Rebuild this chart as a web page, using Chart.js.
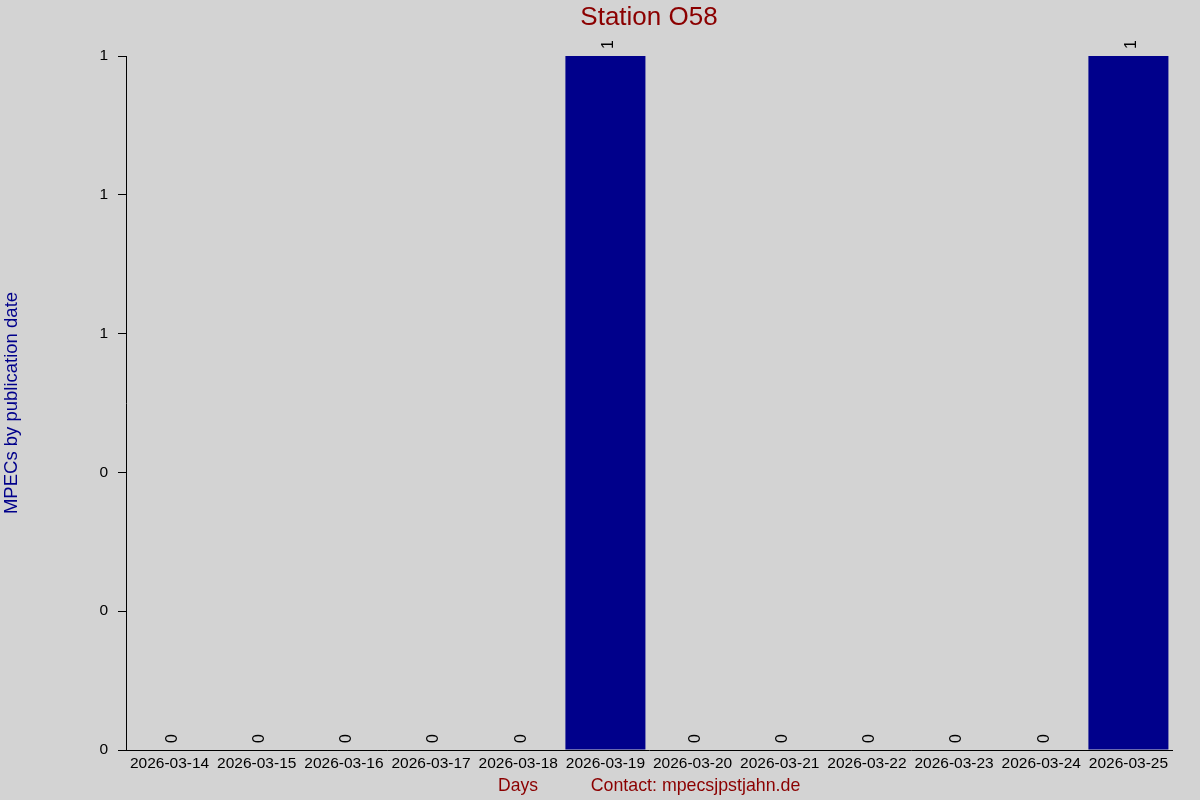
<!DOCTYPE html>
<html>
<head>
<meta charset="utf-8">
<script src="https://cdn.jsdelivr.net/npm/chart.js@4/dist/chart.umd.min.js"></script>
<style>
  html, body { margin: 0; padding: 0; background: #d3d3d3; }
  #wrap { width: 1200px; height: 800px; }
</style>
</head>
<body>
<div id="wrap"><canvas id="c" width="1200" height="800"></canvas></div>
<script>
const categories = ['2026-03-14','2026-03-15','2026-03-16','2026-03-17','2026-03-18','2026-03-19',
                    '2026-03-20','2026-03-21','2026-03-22','2026-03-23','2026-03-24','2026-03-25'];
const mpecCounts = [0,0,0,0,0,1,0,0,0,0,0,1];
const chartTitle = 'Station O58';
const yAxisTitle = 'MPECs by publication date';
const xAxisTitle = 'Days';
const contactText = 'Contact: mpecsjpstjahn.de';

const FONT = '"Liberation Sans", Arial, sans-serif';
const DARKRED = '#8b0000';
const DARKBLUE = '#00008b';

const bgPlugin = {
  id: 'bg',
  beforeDraw(chart) {
    const ctx = chart.ctx;
    ctx.save();
    ctx.fillStyle = '#d3d3d3';
    ctx.fillRect(0, 0, chart.width, chart.height);
    ctx.restore();
  }
};

const textPlugin = {
  id: 'texts',
  afterDatasetsDraw(chart) {
    const ctx = chart.ctx;
    const meta = chart.getDatasetMeta(0);
    ctx.save();
    ctx.fillStyle = '#000';
    ctx.font = '16px ' + FONT;
    ctx.textAlign = 'left';
    ctx.textBaseline = 'middle';
    meta.data.forEach((el, i) => {
      const v = chart.data.datasets[0].data[i];
      ctx.save();
      ctx.translate(el.x + 3, el.y - 7);
      ctx.rotate(-Math.PI / 2);
      ctx.fillText(String(v), 0, 0);
      ctx.restore();
    });
    ctx.restore();
  },
  afterDraw(chart) {
    const ctx = chart.ctx;
    const ca = chart.chartArea;
    ctx.save();
    ctx.textBaseline = 'middle';
    ctx.textAlign = 'center';
    ctx.fillStyle = DARKRED;
    ctx.font = '26px ' + FONT;
    ctx.fillText(chartTitle, (ca.left + ca.right) / 2, 18);
    ctx.font = '17.5px ' + FONT;
    ctx.fillText(xAxisTitle, 518, 786);
    ctx.font = '17.8px ' + FONT;
    ctx.fillText(contactText, 695.5, 786);
    ctx.fillStyle = DARKBLUE;
    ctx.font = '18.5px ' + FONT;
    ctx.save();
    ctx.translate(11.5, (ca.top + ca.bottom) / 2);
    ctx.rotate(-Math.PI / 2);
    ctx.fillText(yAxisTitle, 0, 0);
    ctx.restore();
    ctx.restore();
  }
};

new Chart(document.getElementById('c'), {
  type: 'bar',
  data: {
    labels: categories,
    datasets: [{
      data: mpecCounts,
      backgroundColor: '#00008b',
      borderWidth: 0,
      categoryPercentage: 1.0,
      barPercentage: 0.918
    }]
  },
  options: {
    responsive: false,
    devicePixelRatio: 1,
    animation: false,
    layout: { padding: { top: 56, right: 28, bottom: 0, left: 0 } },
    plugins: {
      legend: { display: false },
      title: { display: false },
      tooltip: { enabled: false }
    },
    scales: {
      x: {
        afterFit(scale) { scale.height = 50; },
        grid: { display: true, drawOnChartArea: false, drawTicks: false },
        border: { display: true, color: '#000', width: 1 },
        ticks: { color: '#000', font: { family: FONT, size: 15.5 }, padding: 4, maxRotation: 0, autoSkip: false }
      },
      y: {
        min: 0,
        max: 1,
        afterFit(scale) { scale.width = 126; },
        grid: { display: true, drawOnChartArea: false, drawTicks: true, tickLength: 8, color: '#000', lineWidth: 1 },
        border: { display: true, color: '#000', width: 1 },
        ticks: {
          stepSize: 0.2,
          color: '#000',
          font: { family: FONT, size: 15.5 },
          padding: 10,
          callback: (v) => String(Math.round(v))
        }
      }
    }
  },
  plugins: [bgPlugin, textPlugin]
});
</script>
</body>
</html>
